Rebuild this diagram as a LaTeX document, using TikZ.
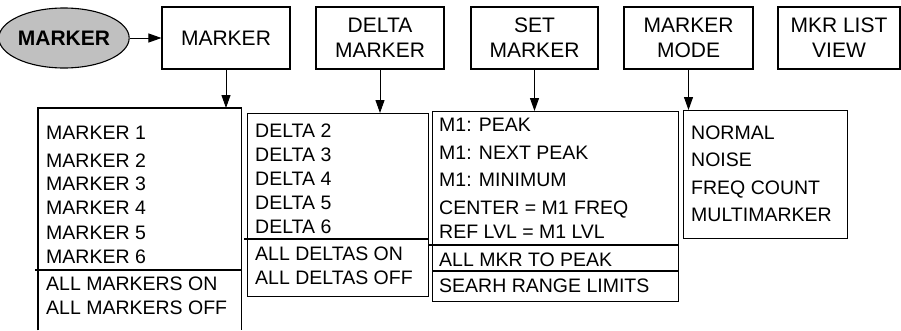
\documentclass[tikz,border=0pt]{standalone}
\usepackage{fontspec}
\setmainfont{Liberation Sans}
\usetikzlibrary{shapes.geometric,arrows.meta}
\definecolor{keygray}{RGB}{192,192,192}
\begin{document}
\begin{tikzpicture}[x=1pt,y=-1pt,
  topbox/.style={draw, line width=1.1pt, minimum height=62pt, inner sep=0pt, align=center, font=\fontsize{21}{25}\selectfont},
  listbox/.style={draw, line width=1.1pt, inner sep=0pt, anchor=north west},
  item/.style={anchor=base west, inner sep=0pt, font=\fontsize{19.5}{23}\selectfont},
  arr/.style={-{Triangle[length=13pt,width=9pt]}, line width=1pt},
  rule/.style={line width=1.1pt}]
\useasboundingbox (0,0) rectangle (901,330);

% key
\node[ellipse, draw, line width=1.1pt, fill=keygray, minimum width=114pt, minimum height=60pt, inner sep=0pt,
      font=\bfseries\fontsize{21}{25}\selectfont] (key) at (64,38) {MARKER};

% top boxes
\node[topbox, minimum width=128pt] (mk)   at (226,38)   {MARKER};
\node[topbox, minimum width=128pt] (dm)   at (380,38)   {DELTA\\MARKER};
\node[topbox, minimum width=127pt] (sm)   at (534.5,38) {SET\\MARKER};
\node[topbox, minimum width=129pt] (mm)   at (688.5,38) {MARKER\\MODE};
\node[topbox, minimum width=122pt] (lv)   at (839,38)   {MKR LIST\\VIEW};

% list boxes
\node[inner sep=0pt, anchor=north west, minimum width=203pt, minimum height=222pt] (mklist) at (38,108) {};
\draw[rule] (mklist.south west) -- (mklist.north west) -- (mklist.north east) -- (mklist.south east);
\node[listbox, minimum width=181pt, minimum height=183pt] (dmlist) at (247,113) {};
\node[listbox, minimum width=246pt, minimum height=190pt] (smlist) at (432,111) {};
\node[listbox, minimum width=164pt, minimum height=128pt] (mmlist) at (683,110) {};

% dividers
\draw[rule] (35,270) -- (241,270);
\draw[rule] (244,239) -- (428,239);
\draw[rule] (429,245) -- (678,245);
\draw[rule] (432,271) -- (678,271);

% connectors
\draw[arr] (key) -- (mk);
\draw[arr] (mk.south) -- (mk.south |- mklist.north);
\draw[arr] (dm.south) -- (dm.south |- dmlist.north);
\draw[arr] (sm.south) -- (sm.south |- smlist.north);
\draw[arr] (mm.south) -- (mm.south |- mmlist.north);

% MARKER list items
\node[item] (a1) at (46,139) {MARKER 1};
\node[item] (a2) at (46,167) {MARKER 2};
\node[item] (a3) at (46,190) {MARKER 3};
\node[item] (a4) at (46,214) {MARKER 4};
\node[item] (a5) at (46,239) {MARKER 5};
\node[item] (a6) at (46,263) {MARKER 6};
\node[item] (a7) at (46,290) {ALL MARKERS ON};
\node[item] (a8) at (46,314) {ALL MARKERS OFF};

% DELTA list items
\node[item] (b1) at (255,137) {DELTA 2};
\node[item] (b2) at (255,161) {DELTA 3};
\node[item] (b3) at (255,185) {DELTA 4};
\node[item] (b4) at (255,209) {DELTA 5};
\node[item] (b5) at (255,233) {DELTA 6};
\node[item] (b6) at (255,260) {ALL DELTAS ON};
\node[item] (b7) at (255,284) {ALL DELTAS OFF};

% SET MARKER list items
\node[item] (c1) at (439,131) {M1: PEAK};
\node[item] (c2) at (439,159) {M1: NEXT PEAK};
\node[item] (c3) at (439,186) {M1: MINIMUM};
\node[item] (c4) at (439,214) {CENTER = M1 FREQ};
\node[item] (c5) at (439,238) {REF LVL = M1 LVL};
\node[item] (c6) at (439,266) {ALL MKR TO PEAK};
\node[item] (c7) at (439,292) {SEARH RANGE LIMITS};

% MARKER MODE list items
\node[item] (d1) at (691,139) {NORMAL};
\node[item] (d2) at (691,166) {NOISE};
\node[item] (d3) at (691,194) {FREQ COUNT};
\node[item] (d4) at (691,221) {MULTIMARKER};
\end{tikzpicture}
\end{document}
